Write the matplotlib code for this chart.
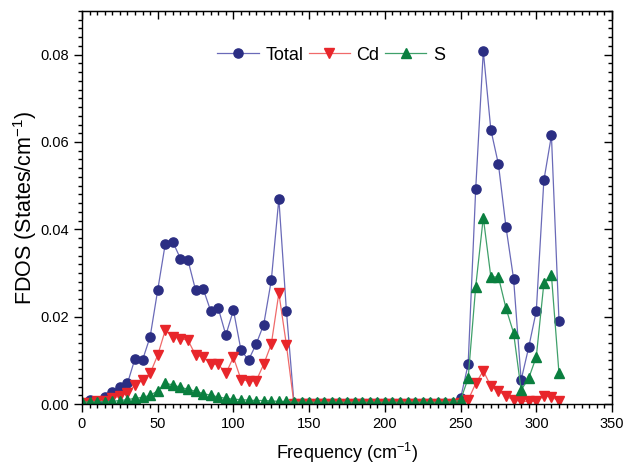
import matplotlib
matplotlib.use("Agg")
import matplotlib.pyplot as plt
from matplotlib.ticker import MultipleLocator, FormatStrFormatter

plt.rcParams['font.family'] = ['Liberation Sans', 'DejaVu Sans']
plt.rcParams['mathtext.fontset'] = 'custom'
plt.rcParams['mathtext.rm'] = 'Liberation Sans'
plt.rcParams['mathtext.default'] = 'regular'

# phonon density of states, 5 cm-1 steps from 0 to 315
freq = list(range(0, 320, 5))

total = [
    0.0003, 0.0009, 0.0006, 0.0015, 0.0028, 0.0040, 0.0047, 0.0104, 0.0101, 0.0154,
    0.0261, 0.0367, 0.0371, 0.0333, 0.0329, 0.0261, 0.0264, 0.0213, 0.0219, 0.0158,
    0.0215, 0.0123, 0.0101, 0.0137, 0.0182, 0.0283, 0.0470, 0.0213, 0.0002, 0.0002,
    0.0002, 0.0002, 0.0002, 0.0002, 0.0002, 0.0002, 0.0002, 0.0002, 0.0002, 0.0002,
    0.0002, 0.0002, 0.0002, 0.0002, 0.0002, 0.0002, 0.0002, 0.0002, 0.0002, 0.0002,
    0.0013, 0.0091, 0.0493, 0.0808, 0.0628, 0.0549, 0.0405, 0.0287, 0.0055, 0.0130,
    0.0213, 0.0512, 0.0615, 0.0190,
]

cd = [
    0.0002, 0.0003, 0.0007, 0.0008, 0.0013, 0.0018, 0.0026, 0.0043, 0.0055, 0.0070,
    0.0112, 0.0169, 0.0154, 0.0150, 0.0146, 0.0112, 0.0108, 0.0091, 0.0091, 0.0070,
    0.0107, 0.0056, 0.0053, 0.0053, 0.0091, 0.0137, 0.0254, 0.0135, 0.0000, 0.0000,
    0.0000, 0.0000, 0.0000, 0.0000, 0.0000, 0.0000, 0.0000, 0.0000, 0.0000, 0.0000,
    0.0000, 0.0000, 0.0000, 0.0000, 0.0000, 0.0000, 0.0000, 0.0000, 0.0000, 0.0000,
    0.0002, 0.0009, 0.0047, 0.0076, 0.0041, 0.0030, 0.0018, 0.0009, 0.0006, 0.0006,
    0.0006, 0.0018, 0.0017, 0.0006,
]

s = [
    0.0004, 0.0005, 0.0005, 0.0005, 0.0006, 0.0008, 0.0010, 0.0013, 0.0015, 0.0020,
    0.0030, 0.0047, 0.0044, 0.0038, 0.0034, 0.0029, 0.0024, 0.0020, 0.0016, 0.0013,
    0.0011, 0.0010, 0.0009, 0.0008, 0.0008, 0.0007, 0.0006, 0.0006, 0.0004, 0.0004,
    0.0004, 0.0004, 0.0004, 0.0004, 0.0004, 0.0004, 0.0004, 0.0004, 0.0004, 0.0004,
    0.0004, 0.0004, 0.0004, 0.0004, 0.0004, 0.0004, 0.0004, 0.0004, 0.0004, 0.0005,
    0.0009, 0.0059, 0.0269, 0.0427, 0.0291, 0.0291, 0.0219, 0.0163, 0.0032, 0.0059,
    0.0108, 0.0276, 0.0295, 0.0070,
]

fig = plt.figure(figsize=(6.24, 4.69), dpi=100)
ax = fig.add_axes([82 / 624, 1 - 404 / 469, 530 / 624, 393 / 469])

ax.plot(freq, total, color='#6a6ab8', lw=0.9, marker='o', ms=6.6,
        mfc='#2b2e83', mec='#2b2e83', label='Total')
ax.plot(freq, cd, color='#f06a6a', lw=0.9, marker='v', ms=7.5,
        mfc='#e8262b', mec='#e8262b', label='Cd')
ax.plot(freq, s, color='#3fa06a', lw=0.9, marker='^', ms=7.5,
        mfc='#0a7f3f', mec='#0a7f3f', label='S')

ax.set_xlim(0, 350)
ax.set_ylim(0, 0.09)
ax.xaxis.set_major_locator(MultipleLocator(50))
ax.xaxis.set_minor_locator(MultipleLocator(5))
ax.yaxis.set_major_locator(MultipleLocator(0.02))
ax.yaxis.set_minor_locator(MultipleLocator(0.002))
ax.yaxis.set_major_formatter(FormatStrFormatter('%.2f'))
ax.tick_params(which='both', direction='out', width=1, labelsize=10.5)
ax.tick_params(which='major', length=6)
ax.tick_params(which='minor', length=3.2)

# mirrored ticks pointing inward on top and right
top = ax.secondary_xaxis('top')
top.xaxis.set_major_locator(MultipleLocator(50))
top.xaxis.set_minor_locator(MultipleLocator(5))
top.tick_params(which='both', direction='in', labeltop=False, width=1)
top.tick_params(which='major', length=6)
top.tick_params(which='minor', length=3.2)
right = ax.secondary_yaxis('right')
right.yaxis.set_major_locator(MultipleLocator(0.02))
right.yaxis.set_minor_locator(MultipleLocator(0.002))
right.tick_params(which='both', direction='in', labelright=False, width=1)
right.tick_params(which='major', length=6)
right.tick_params(which='minor', length=3.2)

for sp in list(ax.spines.values()):
    sp.set_linewidth(1)

ax.set_xlabel('Frequency (cm$^{-1}$)', fontsize=13, labelpad=7)
ax.set_ylabel('FDOS (States/cm$^{-1}$)', fontsize=15.5, labelpad=1)

ax.legend(loc='center', bbox_to_anchor=(0.47, 0.888), ncol=3, frameon=False,
          fontsize=13, handlelength=2.3, handletextpad=0.35, columnspacing=0.3)

fig.savefig('out.png', dpi=100)
